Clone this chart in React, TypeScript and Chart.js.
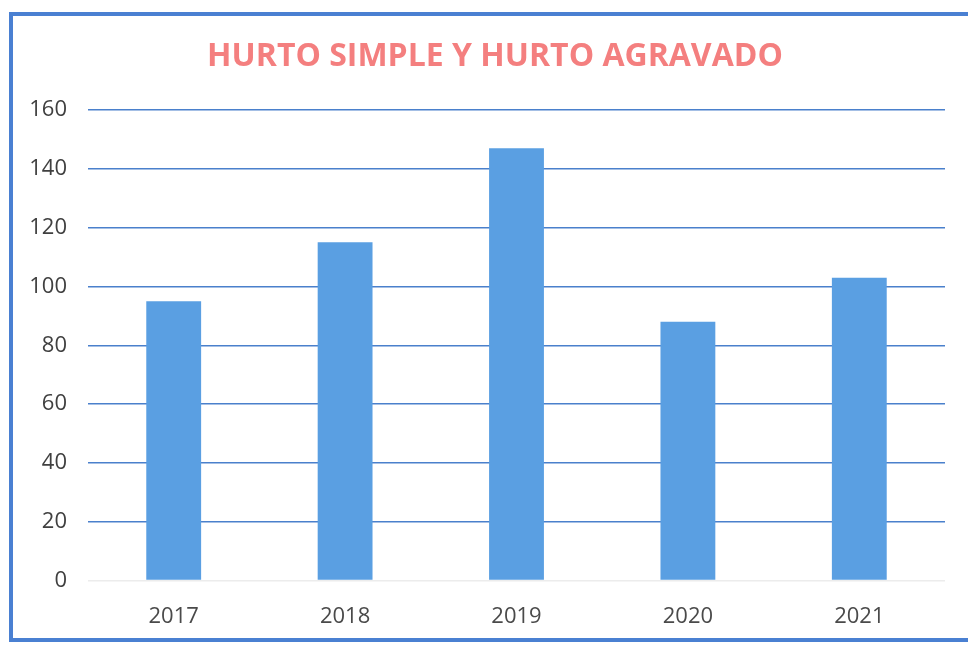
import React, { useEffect, useRef } from "react";
import { Chart, registerables } from "chart.js";

Chart.register(...registerables);

const categories = ["2017", "2018", "2019", "2020", "2021"];
const values = [95, 115, 147, 88, 103];
const titleText = "HURTO SIMPLE Y HURTO AGRAVADO";
const yMax = 160;
const yStep = 20;

const FONT = "'Open Sans', sans-serif";

const titlePlugin = {
  id: "customTitle",
  afterDraw(chart: any) {
    const ctx = chart.ctx;
    ctx.save();
    ctx.font = `bold 32px ${FONT}`;
    ctx.fillStyle = "#f47f7f";
    ctx.textAlign = "center";
    ctx.textBaseline = "middle";
    ctx.fillText(titleText, 495, 57);
    ctx.restore();
  },
};

export default function App() {
  const ref = useRef<HTMLCanvasElement | null>(null);

  useEffect(() => {
    if (!ref.current) return;
    const chart = new Chart(ref.current, {
      type: "bar",
      data: {
        labels: categories,
        datasets: [
          {
            data: values,
            backgroundColor: "#5a9fe2",
            borderWidth: 0,
            barPercentage: 0.64,
            categoryPercentage: 0.5,
          },
        ],
      },
      plugins: [titlePlugin],
      options: {
        animation: false,
        responsive: false,
        layout: { padding: { left: 8, right: 23, top: 110, bottom: 0 } },
        plugins: {
          legend: { display: false },
          tooltip: { enabled: false },
          title: { display: false },
        },
        scales: {
          x: {
            grid: { display: false },
            border: { display: false },
            ticks: {
              color: "#4a4a4a",
              font: { family: FONT, size: 22 },
              padding: 15,
            },
          },
          y: {
            min: 0,
            max: yMax,
            afterFit: (s: any) => {
              s.width = 80;
            },
            border: { display: false },
            grid: {
              color: (ctx: any) => (ctx.tick && ctx.tick.value === 0 ? "#ececec" : "#4a80cc"),
              lineWidth: 1.5,
              drawTicks: false,
            },
            ticks: {
              stepSize: yStep,
              color: "#404040",
              font: { family: FONT, size: 22 },
              padding: 21,
            },
          },
        },
      },
    });
    return () => chart.destroy();
  }, []);

  return (
    <div style={{ position: "fixed", left: 0, top: 0, width: 968, height: 645, background: "#fff", overflow: "hidden" }}>
      <div
        style={{
          position: "absolute",
          left: 9,
          top: 12,
          width: 980,
          height: 630,
          border: "4px solid #4a80d2",
          boxSizing: "border-box",
        }}
      />
      <canvas ref={ref} width={968} height={645} style={{ position: "absolute", left: 0, top: 0 }} />
    </div>
  );
}
